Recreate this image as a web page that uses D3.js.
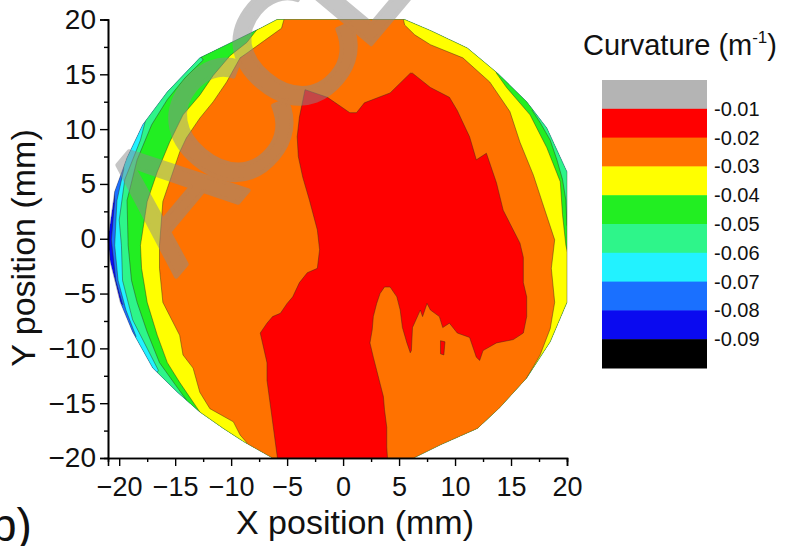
<!DOCTYPE html>
<html><head><meta charset="utf-8">
<script src="https://cdn.jsdelivr.net/npm/d3@7"></script>
<style>body{margin:0;background:#fff}svg{display:block}text{font-family:"Liberation Sans",Arial,sans-serif}</style>
</head><body>
<svg id="c" width="785" height="546"></svg>
<script>
// ---------- data ----------
const xTicks = [-20,-15,-10,-5,0,5,10,15,20];
const yTicks = [-20,-15,-10,-5,0,5,10,15,20];
const xMinor = [-17.5,-12.5,-7.5,-2.5,2.5,7.5,12.5,17.5];
const yMinor = [-17.5,-12.5,-7.5,-2.5,2.5,7.5,12.5,17.5];
const legendLabels = ["-0.01","-0.02","-0.03","-0.04","-0.05","-0.06","-0.07","-0.08","-0.09"];
const levelColors = ["#b4b4b4","#ff0000","#ff7200","#ffff00","#22ee22","#2ef58a","#22f2ff","#1a70ff","#0a0af0","#000000"];

// wafer outline (mm)
const wafer = [[-5.9,20],[5.5,20],[7.8,19.0],[11.1,17.4],[13.8,15.1],[16.4,12.5],[18.2,10.1],[20,6.1],[20,-5.8],[18.5,-9.4],[16.4,-12.7],[14.0,-15.4],[12.0,-17.3],[8.7,-18.8],[6.3,-20],[-6.3,-20],[-8.9,-18.5],[-10.7,-17.3],[-12.8,-15.8],[-14.8,-14.0],[-17.0,-11.8],[-18.8,-8.5],[-19.9,-5.8],[-20.8,-2.1],[-21,0],[-20.4,4.3],[-19.3,7.4],[-17.9,10.4],[-15.7,13.4],[-12.8,16.5],[-10.4,17.7],[-7.4,19.2]];

// regions where curvature > level (mm); drawn nested, clipped to wafer
const regAbove008 = [[-23.5,26.4],[-20.6,5.8],[-20.4,3.5],[-20.7,-0.1],[-20.3,-3.8],[-19.7,-6.0],[-21.6,-8.3],[-3.9,-33],[31.9,-33],[31.9,26.4]];
const regAbove007 = [[-22.6,26.4],[-19.5,9.5],[-19.6,6.3],[-20.2,3.5],[-20.4,-0.6],[-20.1,-3.8],[-19.4,-6.5],[-18.5,-8.9],[-20.8,-12.9],[-3.9,-33],[31.9,-33],[31.9,26.4]];
const regAbove006 = [[-21.8,26.4],[-17.3,12.2],[-18.1,9.0],[-19.5,5.4],[-20.0,1.7],[-19.8,-0.6],[-19.7,-3.8],[-18.8,-7.4],[-17.5,-10.0],[-16.5,-12.0],[-19.0,-16.4],[-3.9,-33],[31.9,-33],[31.9,26.4]];
const regAbove005 = [[-9.2,21.8],[-13.7,18.2],[-12.5,16.3],[-14.1,14.7],[-15.7,12.7],[-17.1,10.4],[-18.4,7.2],[-19.3,3.5],[-19.2,-0.6],[-18.9,-3.8],[-18.4,-5.8],[-17.5,-8.5],[-16.4,-11.3],[-15.0,-13.3],[-14.0,-14.7],[-15.5,-17.5],[-8.3,-22],[22.9,-22],[22.9,0.8],[20.0,1.2],[19.9,3.5],[19.6,5.4],[19.1,7.2],[18.5,9.0],[17.6,10.6],[16.9,11.7],[19.4,14.5],[15.8,21.8]];
const regAbove004 = [[-7.3,20.9],[-7.6,19.2],[-8.6,17.9],[-10.1,16.7],[-11.6,14.9],[-12.8,13.1],[-14.3,11.3],[-15.5,8.8],[-16.6,6.1],[-17.5,3.4],[-18.1,-0.6],[-18.0,-2.7],[-17.5,-5.8],[-16.6,-8.8],[-15.7,-11.3],[-14.6,-13.1],[-13.4,-14.9],[-12.8,-15.8],[-13.7,-17.5],[-9.2,-22],[22.9,-22],[22.9,-1.5],[20.1,-1.5],[19.9,-0.6],[19.6,2.2],[19.4,5.2],[18.2,8.3],[16.7,11.3],[14.6,13.8],[13.7,15.1],[13.3,16.8],[12.2,20.9]];
const regAbove003 = [[-4.9,21.4],[-5.5,19.2],[-7.0,18.1],[-8.5,17.0],[-9.2,16.5],[-10.4,14.3],[-11.6,12.5],[-12.8,11.0],[-14.0,9.2],[-14.6,7.9],[-15.5,5.2],[-16.1,3.4],[-16.4,-0.6],[-16.4,-2.7],[-16.1,-5.8],[-15.5,-7.0],[-14.6,-8.8],[-14.3,-10.6],[-13.4,-11.8],[-12.8,-14.0],[-11.9,-15.5],[-9.8,-16.7],[-9.2,-17.9],[-8.6,-18.6],[-9.2,-21.2],[22.9,-21.2],[22.9,-13.0],[16.4,-12.7],[17.6,-10.6],[18.5,-8.2],[18.9,-5.8],[18.6,-2.7],[18.9,-0.1],[17.8,3.3],[17.0,5.8],[15.8,8.8],[14.9,11.6],[13.1,14.3],[10.7,16.5],[7.8,17.7],[6.4,18.6],[5.5,19.5],[5.1,21.3]];
const regAbove002 = [[-3.4,13.6],[-1.4,12.9],[0.6,11.5],[1.2,11.5],[1.9,12.4],[4.2,13.3],[6.0,15.1],[6.2,15.1],[7.8,13.8],[9.5,12.9],[10.2,11.7],[10.7,10.6],[11.3,9.3],[11.9,7.2],[12.8,7.8],[13.1,6.9],[13.7,5.1],[14.3,2.6],[15.2,0.8],[15.8,-0.4],[16.1,-1.7],[16.1,-4.0],[16.4,-5.3],[16.4,-7.1],[16.1,-8.6],[15.2,-9.2],[13.7,-9.5],[12.5,-10.2],[12.2,-11.1],[11.9,-10.8],[11.3,-9.0],[10.2,-8.6],[9.5,-7.7],[8.9,-8.1],[8.6,-7.1],[7.8,-6.5],[7.5,-5.9],[7.1,-7.1],[6.9,-6.5],[6.2,-8.1],[6.1,-10.2],[6.0,-10.4],[5.7,-9.5],[5.3,-8.1],[5.1,-6.5],[4.8,-5.3],[4.2,-4.4],[3.7,-4.4],[3.3,-5.0],[3.0,-5.9],[2.7,-7.1],[2.6,-8.3],[2.4,-9.5],[2.7,-10.8],[3.0,-12.0],[3.3,-13.2],[3.6,-14.4],[3.7,-15.6],[3.9,-17.2],[3.9,-19.0],[4.0,-20.5],[-5.8,-20.5],[-6.4,-15.9],[-6.8,-12.9],[-6.8,-11.3],[-7.2,-9.5],[-7.4,-8.6],[-6.8,-7.7],[-6.3,-7.1],[-5.6,-6.8],[-5.0,-5.9],[-4.5,-5.3],[-3.9,-4.0],[-3.2,-3.1],[-2.3,-2.7],[-2.1,-1.0],[-2.3,0.8],[-3.0,3.5],[-3.6,5.6],[-4.0,7.5],[-4.1,9.3],[-3.9,11.1]];
const islandAbove002 = [[8.7,-9.3],[9.1,-9.4],[9.0,-10.6],[8.7,-10.5]];

// ---------- drawing ----------
const svg = d3.select("#c");
const x = d3.scaleLinear().domain([-21,20]).range([108,567]);
const y = d3.scaleLinear().domain([-20,20]).range([458,19.5]);
const line = d3.line().x(d=>x(d[0])).y(d=>y(d[1]));
const closed = pts => line(pts) + "Z";

svg.append("clipPath").attr("id","wclip").append("path").attr("d", closed(wafer));

const g = svg.append("g").attr("clip-path","url(#wclip)");
g.append("path").attr("d", closed(wafer)).attr("fill", levelColors[8]);
const regions = [[regAbove008,7],[regAbove007,6],[regAbove006,5],[regAbove005,4],[regAbove004,3],[regAbove003,2],[regAbove002,1],[islandAbove002,1]];
regions.forEach(([pts,ci])=>{
  g.append("path").attr("d", closed(pts)).attr("fill", levelColors[ci])
   .attr("stroke","rgba(50,40,30,0.55)").attr("stroke-width",0.8).attr("stroke-linejoin","round");
});
svg.append("path").attr("d", closed(wafer)).attr("fill","none").attr("stroke","rgba(60,60,60,0.5)").attr("stroke-width",0.8);

// axes
svg.append("g").attr("class","xa").attr("transform",`translate(0,${y(-20)})`)
  .call(d3.axisBottom(x).tickValues(xTicks).tickSize(8).tickPadding(11).tickFormat(d3.format("d")));
svg.append("g").attr("transform",`translate(0,${y(-20)})`)
  .call(d3.axisBottom(x).tickValues(xMinor).tickSize(4).tickFormat(""));
svg.append("g").attr("class","ya").attr("transform",`translate(${x(-21)},0)`)
  .call(d3.axisLeft(y).tickValues(yTicks).tickSize(8).tickPadding(4).tickFormat(d3.format("d")));
svg.append("g").attr("transform",`translate(${x(-21)},0)`)
  .call(d3.axisLeft(y).tickValues(yMinor).tickSize(4).tickFormat(""));
svg.selectAll(".domain").attr("stroke","#000").attr("stroke-width",1.6);
svg.selectAll(".tick line").attr("stroke","#000").attr("stroke-width",1.4);
svg.selectAll(".tick text").attr("font-family","Liberation Sans, Arial, sans-serif").attr("fill","#111");
svg.selectAll(".xa .tick text").attr("font-size",27);
svg.selectAll(".ya .tick text").attr("font-size",28);

// axis titles
svg.append("text").attr("x",355).attr("y",534).attr("text-anchor","middle").attr("font-size",34).attr("fill","#111").text("X position (mm)");
svg.append("text").attr("transform","translate(35,248) rotate(-90)").attr("text-anchor","middle").attr("font-size",34).attr("fill","#111").text("Y position (mm)");
svg.append("text").attr("x",-9).attr("y",541).attr("font-size",46).attr("fill","#111").text("b)");

// legend
const lg = svg.append("g");
const band = d3.scaleBand().domain(d3.range(levelColors.length)).range([80,368]);
lg.selectAll("rect").data(levelColors).join("rect")
  .attr("x",602).attr("width",105).attr("y",(d,i)=>band(i)).attr("height",band.bandwidth()+0.5).attr("fill",d=>d);
lg.selectAll("text.lab").data(legendLabels).join("text").attr("class","lab")
  .attr("x",714).attr("y",(d,i)=>band(i+1)).attr("dy","0.35em").attr("font-size",20).attr("fill","#111").text(d=>d);
const t = lg.append("text").attr("x",583).attr("y",55).attr("font-size",29).attr("fill","#111");
t.append("tspan").text("Curvature (m");
t.append("tspan").attr("font-size",17).attr("dy",-12).text("-1");
t.append("tspan").attr("dy",12).text(")");

// watermark
svg.append("g").attr("opacity",0.5)
  .append("text").attr("transform","translate(176,277) rotate(-50)")
  .attr("font-size",170).attr("letter-spacing",-23).attr("fill","#8c8c8c")
  .attr("stroke","#8c8c8c").attr("stroke-width",4).attr("stroke-linejoin","round")
  .text("ACCEPTED");
</script>
</body></html>
